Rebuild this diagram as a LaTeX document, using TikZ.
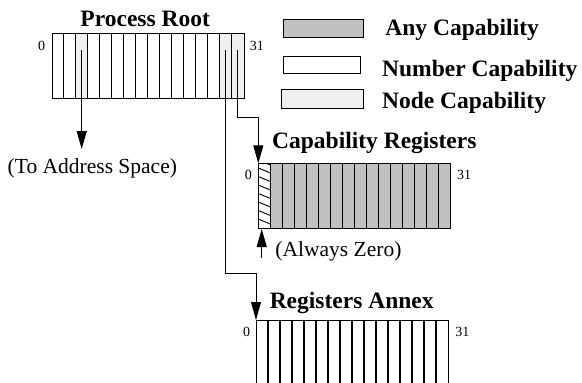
\documentclass[tikz,border=0pt]{standalone}
\usepackage{fontspec}
\setmainfont{Liberation Serif}
\usetikzlibrary{arrows.meta}
\definecolor{anyg}{RGB}{192,192,192}
\definecolor{nodeg}{RGB}{240,240,240}
\begin{document}
\begin{tikzpicture}[x=1pt,y=-1pt,
  line width=0.9pt,
  regbox/.style={draw,inner sep=0pt,minimum width=192pt,minimum height=65pt,anchor=north west},
  ttl/.style={font=\fontsize{23.5}{26}\selectfont\bfseries,anchor=base west,inner sep=0pt},
  lgd/.style={font=\fontsize{23.5}{26}\selectfont\bfseries,anchor=base west,inner sep=0pt},
  txt/.style={font=\fontsize{21.5}{24}\selectfont,anchor=base west,inner sep=0pt},
  num/.style={font=\fontsize{14}{16}\selectfont,inner sep=0pt},
  arr/.style={-{Triangle[length=18pt,width=10pt]}},
  legbox/.style={draw}]
\useasboundingbox (0,0) rectangle (582,383);

% ---------- Process Root ----------
\fill[nodeg] (75.7,33) rectangle (87.7,98);
\fill[nodeg] (219.7,33) rectangle (243.7,98);
\node[regbox] (pr) at (51.7,33) {};
\foreach \i in {1,...,15} \draw (51.7+12*\i,33) -- (51.7+12*\i,98);
\node[ttl] (prt) at (80,26.7) {Process Root};
\node[num] (pr0) at (41.7,46) {0};
\node[num,anchor=west] (pr31) at (249.5,46) {31};

% ---------- Capability Registers ----------
\fill[anyg] (270.3,163.3) rectangle (450.3,228.3);
\begin{scope}
  \clip (258.3,163.3) rectangle (270.3,228.3);
  \foreach \y in {160,168,176.5,185,193.5,202,210.5,219} \draw (258.3,\y) -- (270.3,\y+5);
\end{scope}
\node[regbox] (cr) at (258.3,163.3) {};
\foreach \i in {1,...,15} \draw (258.3+12*\i,163.3) -- (258.3+12*\i,228.3);
\node[ttl] (crt) at (271.7,148.3) {Capability Registers};
\node[num] (cr0) at (248.3,175) {0};
\node[num,anchor=west] (cr31) at (456.7,175) {31};

% ---------- Registers Annex ----------
\draw (256,383) -- (256,320) -- (448,320) -- (448,383);
\coordinate (ra) at (256,320);
\foreach \i in {1,...,15} \draw[line width=1.6pt] (256+12*\i,320.5) -- (256+12*\i,383);
\node[ttl] (rat) at (269.3,308.3) {Registers Annex};
\node[num] (ra0) at (246.7,331.7) {0};
\node[num,anchor=west] (ra31) at (455,331.7) {31};

% ---------- connectors ----------
\coordinate (c2) at (81.7,50);
\coordinate (c2e) at (81.7,149);
\coordinate (c14) at (225.7,50);
\coordinate (c15) at (237.7,50);
\coordinate (za) at (261.7,258);
\coordinate (zb) at (261.7,229);
\draw[arr] (c2) -- (c2e);
\draw[arr] (c15) -- (237.7,117) -- (258.3,117) -- (cr.north west);
\draw[arr] (c14) -- (225.7,273) -- (256,273) -- (ra);
\draw[arr] (za) -- (zb);

\node[txt] (toas) at (7.3,173) {(To Address Space)};
\node[txt] (az) at (275,256.7) {(Always Zero)};

% ---------- legend ----------
\draw[fill=anyg] (283.3,19) rectangle (363.3,37.3);
\draw[fill=white] (283.3,56.7) rectangle (360,73.3);
\draw[fill=nodeg] (281.7,89.3) rectangle (363.3,108.3);
\node[lgd] (l1) at (385,35.7) {Any Capability};
\node[lgd] (l2) at (381.7,76.7) {Number Capability};
\node[lgd] (l3) at (381.7,108.3) {Node Capability};
\end{tikzpicture}
\end{document}
